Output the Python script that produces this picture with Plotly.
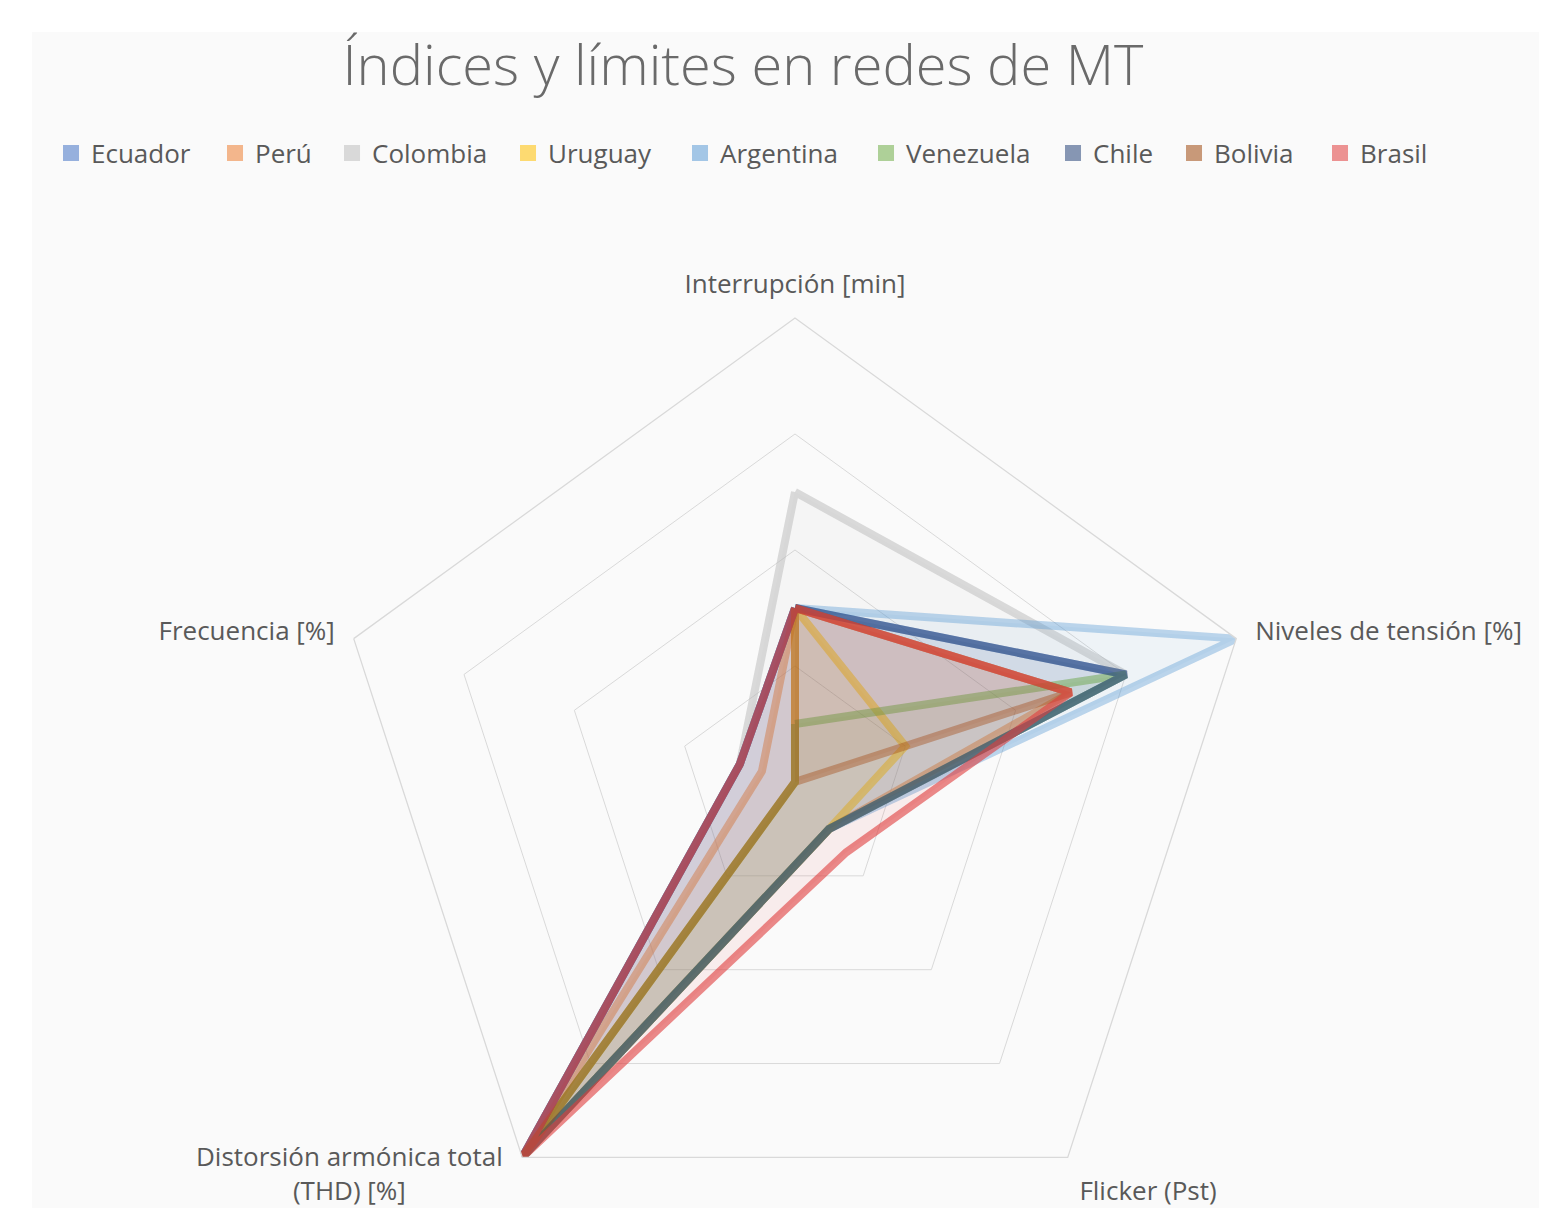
import plotly.graph_objects as go

# radar axes, clockwise from the top
axes = ["Interrupción [min]", "Niveles de tensión [%]", "Flicker (Pst)",
        "Distorsión armónica total<br>(THD) [%]", "Frecuencia [%]"]
# the THD label is placed by hand (two lines, left of its vertex)
axis_text = ["Interrupción [min]", "Niveles de tensión [%]", "Flicker (Pst)", "", "Frecuencia [%]"]

countries = ["Ecuador", "Perú", "Colombia", "Uruguay", "Argentina",
             "Venezuela", "Chile", "Bolivia", "Brasil"]

# values per country, same order as axes
ecuador = [3, 6, 1, 8, 1]
peru = [3, 5, 1, 8, 0.6]
colombia = [5, 6, 1, 8, 1]
uruguay = [3, 2, 1, 8, 0]
argentina = [3, 8, 1, 8, 1]
venezuela = [1, 6, 1, 8, 0]
chile = [3, 6, 1, 8, 1]
bolivia = [3, 5, 0, 8, 0]
brasil = [3, 5, 1.5, 8, 1]

series = [ecuador, peru, colombia, uruguay, argentina, venezuela, chile, bolivia, brasil]

# excel-ish palette (rgb) and line alpha
colors = ["68,114,196", "237,125,49", "190,190,190", "255,192,0", "91,155,213",
          "112,173,71", "38,68,120", "158,72,14", "224,60,60"]
alphas = [0.55, 0.5, 0.55, 0.5, 0.4, 0.5, 0.55, 0.4, 0.6]

# legend entry widths so the row spreads like the excel legend
legend_w = [119, 72, 131, 127, 141, 142, 76, 101, 80]

FONT = "Open Sans, Arial, sans-serif"
TXT = "#595959"

fig = go.Figure()

for name, vals, c, a in zip(countries, series, colors, alphas):
    fig.add_trace(go.Scatterpolar(
        r=vals + vals[:1], theta=axes + axes[:1], name=name,
        mode="lines", fill="toself", legendgroup=name, showlegend=False,
        line=dict(color=f"rgba({c},{a})", width=8),
        fillcolor=f"rgba({c},0.07)"
    ))

# square legend keys
for name, c, w in zip(countries, colors, legend_w):
    fig.add_trace(go.Scatterpolar(
        r=[None], theta=[axes[0]], name=name, mode="markers", legendgroup=name,
        legendwidth=w, marker=dict(symbol="square", size=16, color=f"rgba({c},0.55)")
    ))

fig.update_layout(
    width=1547, height=1260,
    paper_bgcolor="#FFFFFF", plot_bgcolor="#FFFFFF",
    font=dict(family=FONT, color=TXT, size=26),
    title=dict(text="Índices y límites en redes de MT", x=0.4751, xanchor="center",
               y=0.9548, yanchor="middle",
               font=dict(size=56, color="#6a6a6a", family=FONT, weight=300)),
    legend=dict(orientation="h", x=0.0278, xanchor="left", y=0.8849, yanchor="middle",
                font=dict(size=26, color=TXT), bgcolor="rgba(0,0,0,0)"),
    margin=dict(l=0, r=0, t=0, b=0),
    polar=dict(
        domain=dict(x=[0.20879, 0.80866], y=[0.01746, 0.75397]),
        bgcolor="rgba(0,0,0,0)",
        gridshape="linear",
        radialaxis=dict(range=[0, 8], tickvals=[2, 4, 6, 8], showticklabels=False,
                        ticks="", showline=False, gridcolor="#D9D9D9", gridwidth=1.3),
        angularaxis=dict(direction="clockwise", rotation=90, showgrid=False,
                         tickmode="array", tickvals=axes, ticktext=axis_text,
                         showline=True, linecolor="#D9D9D9", linewidth=1.3,
                         ticks="outside", ticklen=14, tickcolor="rgba(0,0,0,0)",
                         tickfont=dict(size=26, color=TXT))
    ),
    annotations=[dict(text=axes[3], xref="paper", yref="paper", x=0.3213, y=0.1047,
                      xanchor="right", yanchor="top", align="center", showarrow=False,
                      font=dict(size=26, color=TXT))],
    shapes=[dict(type="rect", xref="paper", yref="paper", x0=0.0155, x1=1, y0=0, y1=0.981,
                 fillcolor="#FAFAFA", line=dict(width=0), layer="below")]
)

fig.write_html("out.html")
